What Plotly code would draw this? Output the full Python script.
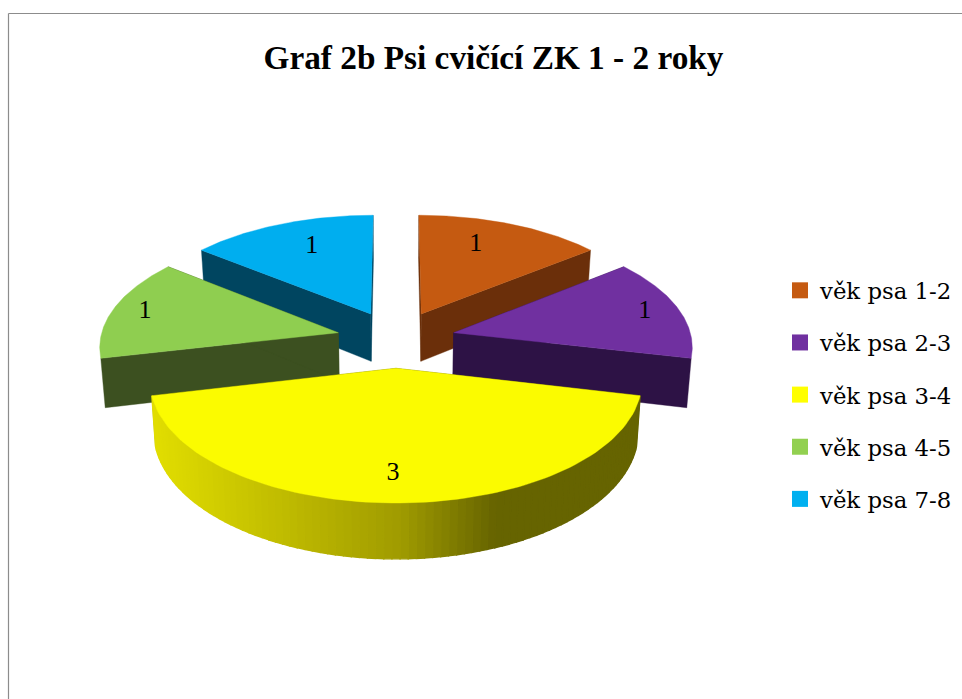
import numpy as np
import plotly.graph_objects as go

categories = ["věk psa 1-2", "věk psa 2-3", "věk psa 3-4", "věk psa 4-5", "věk psa 7-8"]
values = [1, 1, 3, 1, 1]
top_colors = ["#c55a11", "#7030a0", "#fbfb00", "#8fce50", "#00aeef"]
wall_colors = ["#6b2f0a", "#2d1245", "#666400", "#3c5020", "#004560"]
legend_colors = ["#c55a11", "#7030a0", "#ffff00", "#92d050", "#00b0f0"]
title_text = "Graf 2b Psi cvičící ZK 1 - 2 roky"

# projection of the tilted pie
CX, CY, RX, RY, PERSP, DEPTH, EXPLODE = 396, 339, 238, 114, 0.105, 48.5, 0.25
SHRINK = 0.985
SERIF = "Liberation Serif"
LEGEND_FONT = "DejaVu Serif"


def project(X, Y, lower=False):
    X, Y = np.asarray(X, float), np.asarray(Y, float)
    w = 1 + PERSP * Y
    sx = CX + RX * X / w
    sy = CY - RY * Y / w
    if lower:
        sx = CX + (sx - CX) * SHRINK
        sy = sy + DEPTH / w
    return sx, sy


fractions = np.array(values, float) / sum(values)
edges = np.concatenate([[0], np.cumsum(fractions) * 360])

fig = go.Figure()

# legend entries
for name, color in zip(categories, legend_colors):
    fig.add_trace(go.Scatter(
        x=[None], y=[None], mode="markers", name=name, legendgroup=name,
        marker=dict(symbol="square", size=17, color=color),
    ))


def poly(xs, ys, color, width=0.4):
    fig.add_trace(go.Scatter(
        x=np.append(xs, xs[0]), y=np.append(ys, ys[0]), mode="lines", fill="toself",
        fillcolor=color, line=dict(color=color, width=width), showlegend=False,
        hoverinfo="skip",
    ))


def shade_yellow(sx):
    stops_x = [150, 250, 400, 495, 640]
    r = np.interp(sx, stops_x, [226, 200, 160, 102, 102])
    g = np.interp(sx, stops_x, [222, 196, 155, 100, 100])
    return f"rgb({r:.0f},{g:.0f},0)"


labels_x, labels_y, labels_t = [], [], []
label_radius = [0.73, 0.85, 0.80, 0.86, 0.72]
label_shift = [-5, 0, 0.8, 0, 3]
draw_order = [4, 0, 3, 1, 2]
curved_wall = [False, False, True, False, False]

for i in draw_order:
    a0, a1 = np.radians(edges[i]), np.radians(edges[i + 1])
    mid = (a0 + a1) / 2
    ox, oy = EXPLODE * np.sin(mid), EXPLODE * np.cos(mid)
    t = np.linspace(a0, a1, 90)
    rim_x, rim_y = ox + np.sin(t), oy + np.cos(t)

    # radial walls
    for ex, ey in [(rim_x[0], rim_y[0]), (rim_x[-1], rim_y[-1])]:
        ux, uy = project([ox, ex], [oy, ey])
        lx, ly = project([ox, ex], [oy, ey], lower=True)
        poly(np.array([ux[0], ux[1], lx[1], lx[0]]), np.array([uy[0], uy[1], ly[1], ly[0]]), wall_colors[i])

    # outer curved wall, as shaded strips
    ux, uy = project(rim_x, rim_y)
    lx, ly = project(rim_x, rim_y, lower=True)
    if curved_wall[i]:
        for k in range(len(t) - 1):
            poly(np.array([ux[k], ux[k + 1], lx[k + 1], lx[k]]),
                 np.array([uy[k], uy[k + 1], ly[k + 1], ly[k]]),
                 shade_yellow((ux[k] + ux[k + 1]) / 2), width=1.4)

    # top face
    ax, ay = project([ox], [oy])
    poly(np.concatenate([ax, ux]), np.concatenate([ay, uy]), top_colors[i])

    la = mid + np.radians(label_shift[i])
    px, py = project([ox + label_radius[i] * np.sin(la)], [oy + label_radius[i] * np.cos(la)])
    labels_x.append(px[0]); labels_y.append(py[0]); labels_t.append(str(values[i]))

fig.add_trace(go.Scatter(
    x=labels_x, y=labels_y, text=labels_t, mode="text", showlegend=False, hoverinfo="skip",
    textfont=dict(family=SERIF, size=26, color="black"), textposition="middle center",
))

fig.update_layout(
    width=962, height=699, autosize=False,
    margin=dict(l=0, r=0, t=0, b=0),
    paper_bgcolor="white", plot_bgcolor="white",
    xaxis=dict(range=[0, 962], visible=False, fixedrange=True),
    yaxis=dict(range=[699, 0], visible=False, fixedrange=True),
    title=dict(text=f"<b>{title_text}</b>", x=493.5 / 962, xanchor="center", y=1 - 57 / 699, yanchor="middle",
               font=dict(family=SERIF, size=33.3, color="black")),
    legend=dict(x=780 / 962, xanchor="left", y=1 - 395 / 699, yanchor="middle",
                font=dict(family=LEGEND_FONT, size=22.8, color="black"),
                tracegroupgap=19.5, itemwidth=30, bgcolor="rgba(0,0,0,0)",
                itemclick=False, itemdoubleclick=False),
    shapes=[
        dict(type="line", xref="x", yref="y", x0=8.5, x1=8.5, y0=13.5, y1=699, line=dict(color="#8c8c8c", width=1.2)),
        dict(type="line", xref="x", yref="y", x0=8.5, x1=962, y0=13.5, y1=13.5, line=dict(color="#8c8c8c", width=1.2)),
    ],
)

fig.write_html("out.html", config=dict(displayModeBar=False),
               post_script="document.body.style.margin='0';document.documentElement.style.overflow='hidden';")
